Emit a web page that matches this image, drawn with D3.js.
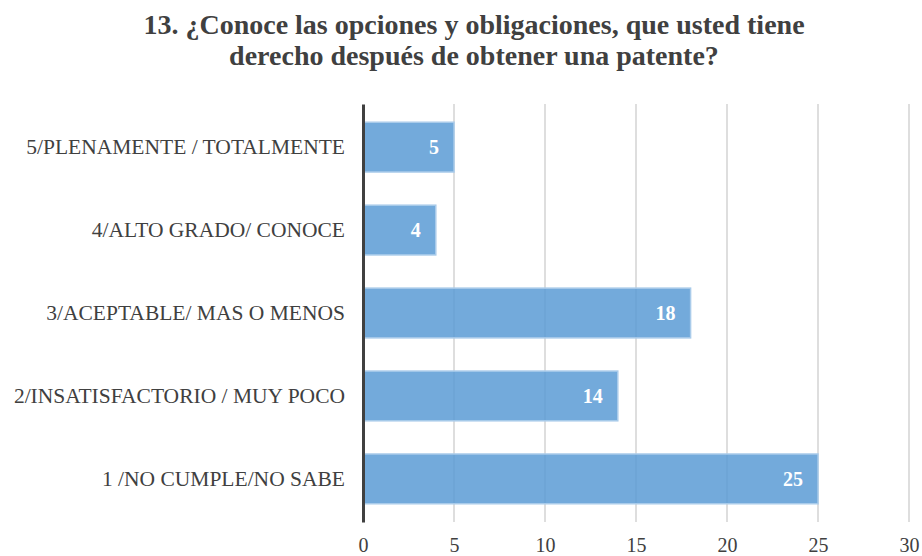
<!DOCTYPE html>
<html>
<head>
    <meta charset="utf-8">
    <title>Conoce las opciones y obligaciones</title>
    <script src="https://d3js.org/d3.v7.min.js"></script>
    <style>
        body { margin: 0; background: #fff; }
    </style>
</head>
<body>
    <div id="my_dataviz"></div>
    <script>
        var titleLines = ["13. ¿Conoce las opciones y obligaciones, que usted tiene",
                          "derecho después de obtener una patente?"];
        var categories = ["5/PLENAMENTE / TOTALMENTE",
                          "4/ALTO GRADO/ CONOCE",
                          "3/ACEPTABLE/ MAS O MENOS",
                          "2/INSATISFACTORIO / MUY POCO",
                          "1 /NO CUMPLE/NO SABE"];
        var values = [5, 4, 18, 14, 25];
        var xTicks = [0, 5, 10, 15, 20, 25, 30];

        var serif = "'Liberation Serif', 'Times New Roman', serif";

        var margin = {top: 104, right: 13, bottom: 34, left: 363},
            width = 922 - margin.left - margin.right,
            height = 556 - margin.top - margin.bottom;

        var root = d3.select("#my_dataviz")
            .append("svg")
                .attr("width", 922)
                .attr("height", 556);

        root.selectAll(".title")
            .data(titleLines)
            .enter()
            .append("text")
                .attr("class", "title")
                .attr("x", 474)
                .attr("y", function(d, i) { return 34 + i * 31; })
                .attr("text-anchor", "middle")
                .style("font-family", serif)
                .style("font-size", "28px")
                .style("font-weight", "bold")
                .style("fill", "#404040")
                .text(function(d) { return d; });

        var svg = root.append("g")
            .attr("transform", "translate(" + margin.left + "," + margin.top + ")");

        var x = d3.scaleLinear()
            .domain([0, 30])
            .range([0, width]);

        var y = d3.scaleBand()
            .domain(categories)
            .range([0, height])
            .paddingInner(0.4)
            .paddingOuter(0.22);

        // vertical gridlines
        svg.append("g")
            .selectAll("line")
            .data(xTicks.slice(1))
            .enter()
            .append("line")
                .attr("x1", function(d) { return x(d); })
                .attr("x2", function(d) { return x(d); })
                .attr("y1", 0)
                .attr("y2", height)
                .attr("stroke", "#c8c8c8")
                .attr("stroke-width", 1.2);

        svg.append("g")
            .selectAll("rect")
            .data(values)
            .enter()
            .append("rect")
                .attr("x", x(0))
                .attr("y", function(d, i) { return y(categories[i]); })
                .attr("width", function(d) { return x(d) - x(0); })
                .attr("height", y.bandwidth())
                .attr("fill", "#5b9bd5")
                .attr("fill-opacity", 0.85)
                .attr("stroke", "#a9cbea")
                .attr("stroke-width", 1.5);

        svg.append("g")
            .selectAll("text")
            .data(values)
            .enter()
            .append("text")
                .attr("x", function(d) { return x(d) - 15; })
                .attr("y", function(d, i) { return y(categories[i]) + y.bandwidth() / 2; })
                .attr("dy", "0.35em")
                .attr("text-anchor", "end")
                .style("font-family", serif)
                .style("font-size", "20px")
                .style("font-weight", "bold")
                .style("fill", "#ffffff")
                .text(function(d) { return d; });

        var yAxis = svg.append("g")
            .call(d3.axisLeft(y).tickSize(0).tickPadding(18));
        yAxis.select(".domain").attr("stroke", "#404040").attr("stroke-width", 3);
        yAxis.selectAll("text")
            .style("font-family", serif)
            .style("font-size", "21.5px")
            .style("fill", "#404040");

        var xAxis = svg.append("g")
            .attr("transform", "translate(0," + height + ")")
            .call(d3.axisBottom(x).tickValues(xTicks).tickSize(0).tickPadding(16));
        xAxis.select(".domain").remove();
        xAxis.selectAll("text")
            .style("font-family", serif)
            .style("font-size", "20px")
            .style("fill", "#404040");
    </script>
</body>
</html>
